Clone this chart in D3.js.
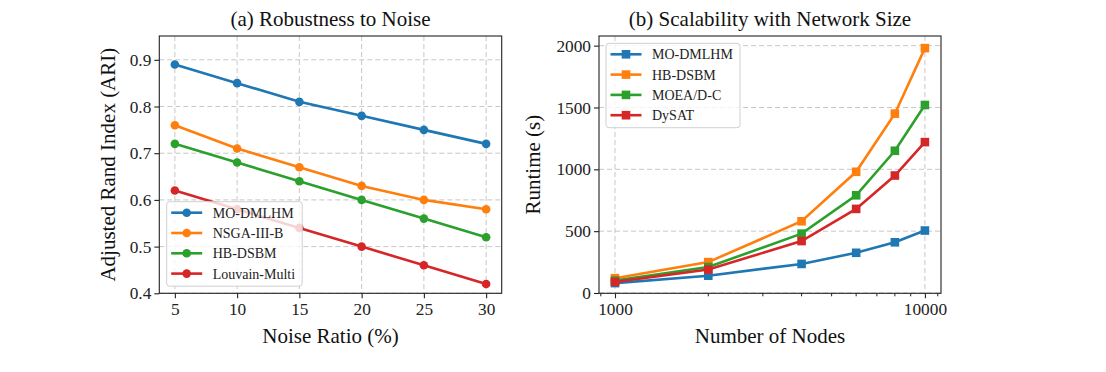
<!DOCTYPE html>
<html>
<head>
<meta charset="utf-8">
<script src="https://cdn.jsdelivr.net/npm/d3@7"></script>
<style>
  body { margin: 0; background: #fff; }
  svg text { font-family: "Liberation Serif", "Times New Roman", serif !important; }
</style>
</head>
<body>
<div id="chart"></div>
<script>
// ---- data ----
const noiseRatios = [5, 10, 15, 20, 25, 30];
const noiseNames = ["MO-DMLHM", "NSGA-III-B", "HB-DSBM", "Louvain-Multi"];
const ariMO = [0.89, 0.85, 0.81, 0.78, 0.75, 0.72];
const ariNSGA = [0.76, 0.71, 0.67, 0.63, 0.60, 0.58];
const ariHB = [0.72, 0.68, 0.64, 0.60, 0.56, 0.52];
const ariLouvain = [0.62, 0.58, 0.54, 0.50, 0.46, 0.42];
const ariTicks = [0.4, 0.5, 0.6, 0.7, 0.8, 0.9];

const nodeCounts = [1000, 2000, 4000, 6000, 8000, 10000];
const sizeNames = ["MO-DMLHM", "HB-DSBM", "MOEA/D-C", "DySAT"];
const rtMO = [80, 140, 235, 325, 410, 505];
const rtHB = [120, 250, 580, 980, 1450, 1980];
const rtMOEA = [100, 210, 480, 790, 1150, 1520];
const rtDySAT = [90, 190, 420, 680, 950, 1220];
const runtimeTicks = [0, 500, 1000, 1500, 2000];

const COLORS = ["#1f77b4", "#ff7f0e", "#2ca02c", "#d62728"];

const W = 1106, H = 372;
const svg = d3.select("#chart").append("svg")
  .attr("width", W).attr("height", H);
svg.append("rect").attr("width", W).attr("height", H).attr("fill", "#fff");

// draw one panel
function panel(opt) {
  const { left, right, top, bottom, x, y, xTicks, yTicks, xFmt, yFmt, series, names, marker, title, xLabel, yLabel, yLabelX, legend } = opt;
  const g = svg.append("g");
  const clipId = "clip" + Math.round(left);
  svg.append("clipPath").attr("id", clipId).append("rect")
    .attr("x", left).attr("y", top).attr("width", right - left).attr("height", bottom - top);

  // grid
  const grid = g.append("g").attr("stroke", "#b0b0b0").attr("stroke-opacity", 0.7)
    .attr("stroke-width", 1).attr("stroke-dasharray", "5,3");
  xTicks.forEach(t => grid.append("line").attr("x1", x(t)).attr("x2", x(t)).attr("y1", top).attr("y2", bottom));
  yTicks.forEach(t => grid.append("line").attr("x1", left).attr("x2", right).attr("y1", y(t)).attr("y2", y(t)));

  // axes
  const xAxis = g.append("g").attr("transform", `translate(0,${bottom})`)
    .call(d3.axisBottom(x).tickValues(xTicks).tickFormat(xFmt).tickSize(5).tickSizeOuter(0));
  const yAxis = g.append("g").attr("transform", `translate(${left},0)`)
    .call(d3.axisLeft(y).tickValues(yTicks).tickFormat(yFmt).tickSize(5).tickSizeOuter(0));
  [xAxis, yAxis].forEach(a => {
    a.attr("font-family", null).attr("font-size", null);
    a.select(".domain").remove();
    a.selectAll("line").attr("stroke", "#222").attr("stroke-width", 1.1);
    a.selectAll("text").style("font-size", "17.3px").attr("fill", "#222");
  });
  xAxis.selectAll("text").attr("dy", "0.75em").attr("y", 9);
  yAxis.selectAll("text").attr("x", -8);
  if (opt.minor) {
    xAxis.selectAll(".minor").data(opt.minor).enter().append("line")
      .attr("x1", d => x(d)).attr("x2", d => x(d)).attr("y1", 0).attr("y2", 3)
      .attr("stroke", "#222").attr("stroke-width", 1);
  }

  // lines
  const lg = g.append("g").attr("clip-path", `url(#${clipId})`);
  series.forEach((vals, i) => {
    const pts = vals.map((v, j) => [x(opt.xs[j]), y(v)]);
    lg.append("path").attr("d", d3.line()(pts)).attr("fill", "none")
      .attr("stroke", COLORS[i]).attr("stroke-width", 2.6);
    pts.forEach(p => {
      if (marker === "circle") lg.append("circle").attr("cx", p[0]).attr("cy", p[1]).attr("r", 4.3).attr("fill", COLORS[i]);
      else lg.append("rect").attr("x", p[0] - 4.3).attr("y", p[1] - 4.3).attr("width", 8.6).attr("height", 8.6).attr("fill", COLORS[i]);
    });
  });

  // frame
  g.append("rect").attr("x", left).attr("y", top).attr("width", right - left).attr("height", bottom - top)
    .attr("fill", "none").attr("stroke", "#222").attr("stroke-width", 1.1);

  // legend
  const L = legend;
  const leg = g.append("g");
  leg.append("rect").attr("x", L.x).attr("y", L.y).attr("width", L.w).attr("height", L.h)
    .attr("rx", 3).attr("fill", "#fff").attr("fill-opacity", 0.8).attr("stroke", "#d0d0d0").attr("stroke-width", 1);
  names.forEach((n, i) => {
    const cy = L.y + 11 + i * 20.3;
    const x0 = L.x + 4.5, x1 = x0 + 31, xm = (x0 + x1) / 2;
    leg.append("line").attr("x1", x0).attr("x2", x1).attr("y1", cy).attr("y2", cy)
      .attr("stroke", COLORS[i]).attr("stroke-width", 2.6);
    if (marker === "circle") leg.append("circle").attr("cx", xm).attr("cy", cy).attr("r", 4.3).attr("fill", COLORS[i]);
    else leg.append("rect").attr("x", xm - 4.3).attr("y", cy - 4.3).attr("width", 8.6).attr("height", 8.6).attr("fill", COLORS[i]);
    leg.append("text").attr("x", L.x + 46).attr("y", cy + 5).style("font-size", "14px").attr("fill", "#222").text(n);
  });

  // titles
  g.append("text").attr("x", (left + right) / 2).attr("y", 26).attr("text-anchor", "middle")
    .style("font-size", "21px").attr("fill", "#111").text(title);
  g.append("text").attr("x", (left + right) / 2).attr("y", 343).attr("text-anchor", "middle")
    .style("font-size", "21px").attr("fill", "#111").text(xLabel);
  g.append("text").attr("transform", `translate(${yLabelX},${(top + bottom) / 2}) rotate(-90)`)
    .attr("text-anchor", "middle").style("font-size", "21px").attr("fill", "#111").text(yLabel);
}

// (a)
const xa = d3.scaleLinear().domain([3.75, 31.25]).range([159.3, 501.7]);
const ya = d3.scaleLinear().domain([0.4, 0.951]).range([293.3, 36]);
panel({
  left: 159.3, right: 501.7, top: 36, bottom: 293.3,
  x: xa, y: ya, xs: noiseRatios, xTicks: noiseRatios, yTicks: ariTicks,
  xFmt: d3.format("d"), yFmt: d3.format(".1f"),
  series: [ariMO, ariNSGA, ariHB, ariLouvain], names: noiseNames, marker: "circle",
  title: "(a) Robustness to Noise", xLabel: "Noise Ratio (%)", yLabel: "Adjusted Rand Index (ARI)",
  yLabelX: 115, legend: { x: 166.7, y: 201.7, w: 135.5, h: 84.5 }
});

// (b)
const xb = d3.scaleLog().domain([888, 11270]).range([599, 941]);
const yb = d3.scaleLinear().domain([0, 2078]).range([293, 36]);
panel({
  left: 599, right: 941, top: 36, bottom: 293.3,
  x: xb, y: yb, xs: nodeCounts, xTicks: [1000, 10000], yTicks: runtimeTicks,
  xFmt: d3.format("d"), yFmt: d3.format("d"),
  minor: [900, 2000, 3000, 4000, 5000, 6000, 7000, 8000, 9000, 11000],
  series: [rtMO, rtHB, rtMOEA, rtDySAT], names: sizeNames, marker: "square",
  title: "(b) Scalability with Network Size", xLabel: "Number of Nodes", yLabel: "Runtime (s)",
  yLabelX: 540, legend: { x: 606, y: 43.3, w: 134, h: 84.4 }
});
</script>
</body>
</html>
